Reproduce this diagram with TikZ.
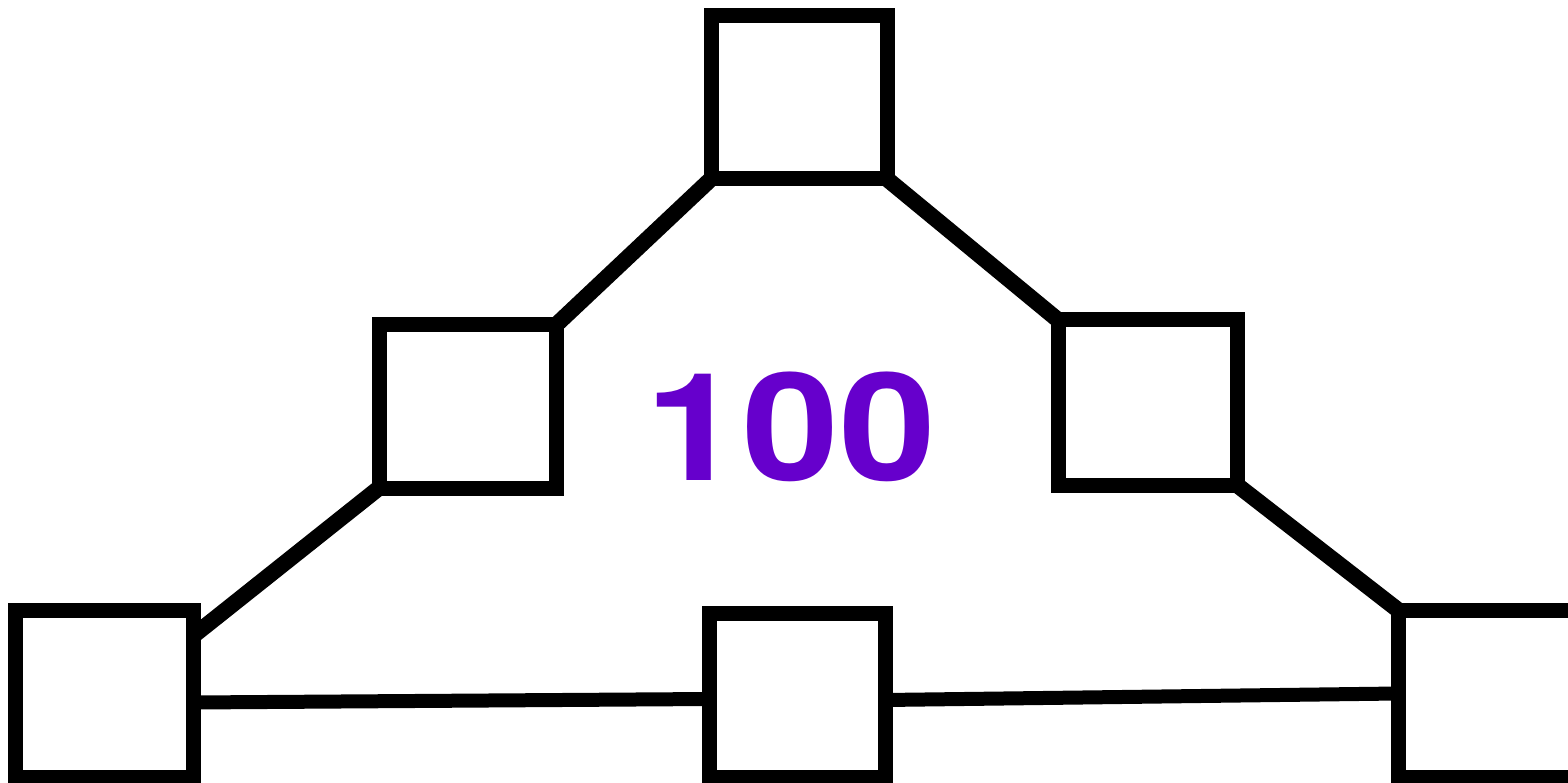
\documentclass[tikz,border=0pt]{standalone}
\usepackage{fontspec}
\newfontfamily\numfont{TeX Gyre Heros}
\definecolor{numpurple}{RGB}{102,0,204}
\begin{document}
\begin{tikzpicture}[x=1pt,y=-1pt,
  box/.style={draw=black,line width=15pt,inner sep=0pt,outer sep=0pt,minimum width=#1},
  link/.style={draw=black,line width=16pt}]
\useasboundingbox (0,0) rectangle (1568,783);
\fill[white] (0,0) rectangle (1568,783);
\clip (0,0) rectangle (1568,783);
\node[box=176pt,minimum height=163pt] (top) at (799,97.5) {};
\node[box=177pt,minimum height=163pt] (ml) at (467.5,406.5) {};
\node[box=179pt,minimum height=165pt] (mr) at (1147.5,402.5) {};
\node[box=178pt,minimum height=167pt] (bl) at (104,693.5) {};
\node[box=176pt,minimum height=164pt] (bm) at (797,695) {};
\node[box=180pt,minimum height=167pt] (br) at (1488,693.5) {};
\draw[link] (top.south west) -- (ml.north east);
\draw[link] (top.south east) -- (mr.north west);
\draw[link] (ml.south west) -- ([yshift=-26pt]bl.north east);
\draw[link] (mr.south east) -- (br.north west);
\draw[link,line width=14pt] ([yshift=-9pt]bl.east) -- ([yshift=-4pt]bm.west);
\draw[link,line width=14pt] ([yshift=-5pt]bm.east) -- (br.west);
\node[text=numpurple,font=\numfont\bfseries\fontsize{150}{150}\selectfont,inner sep=0pt,anchor=base] (num) at (791,480) {\scalebox{1.16}[1]{100}};
\end{tikzpicture}
\end{document}
